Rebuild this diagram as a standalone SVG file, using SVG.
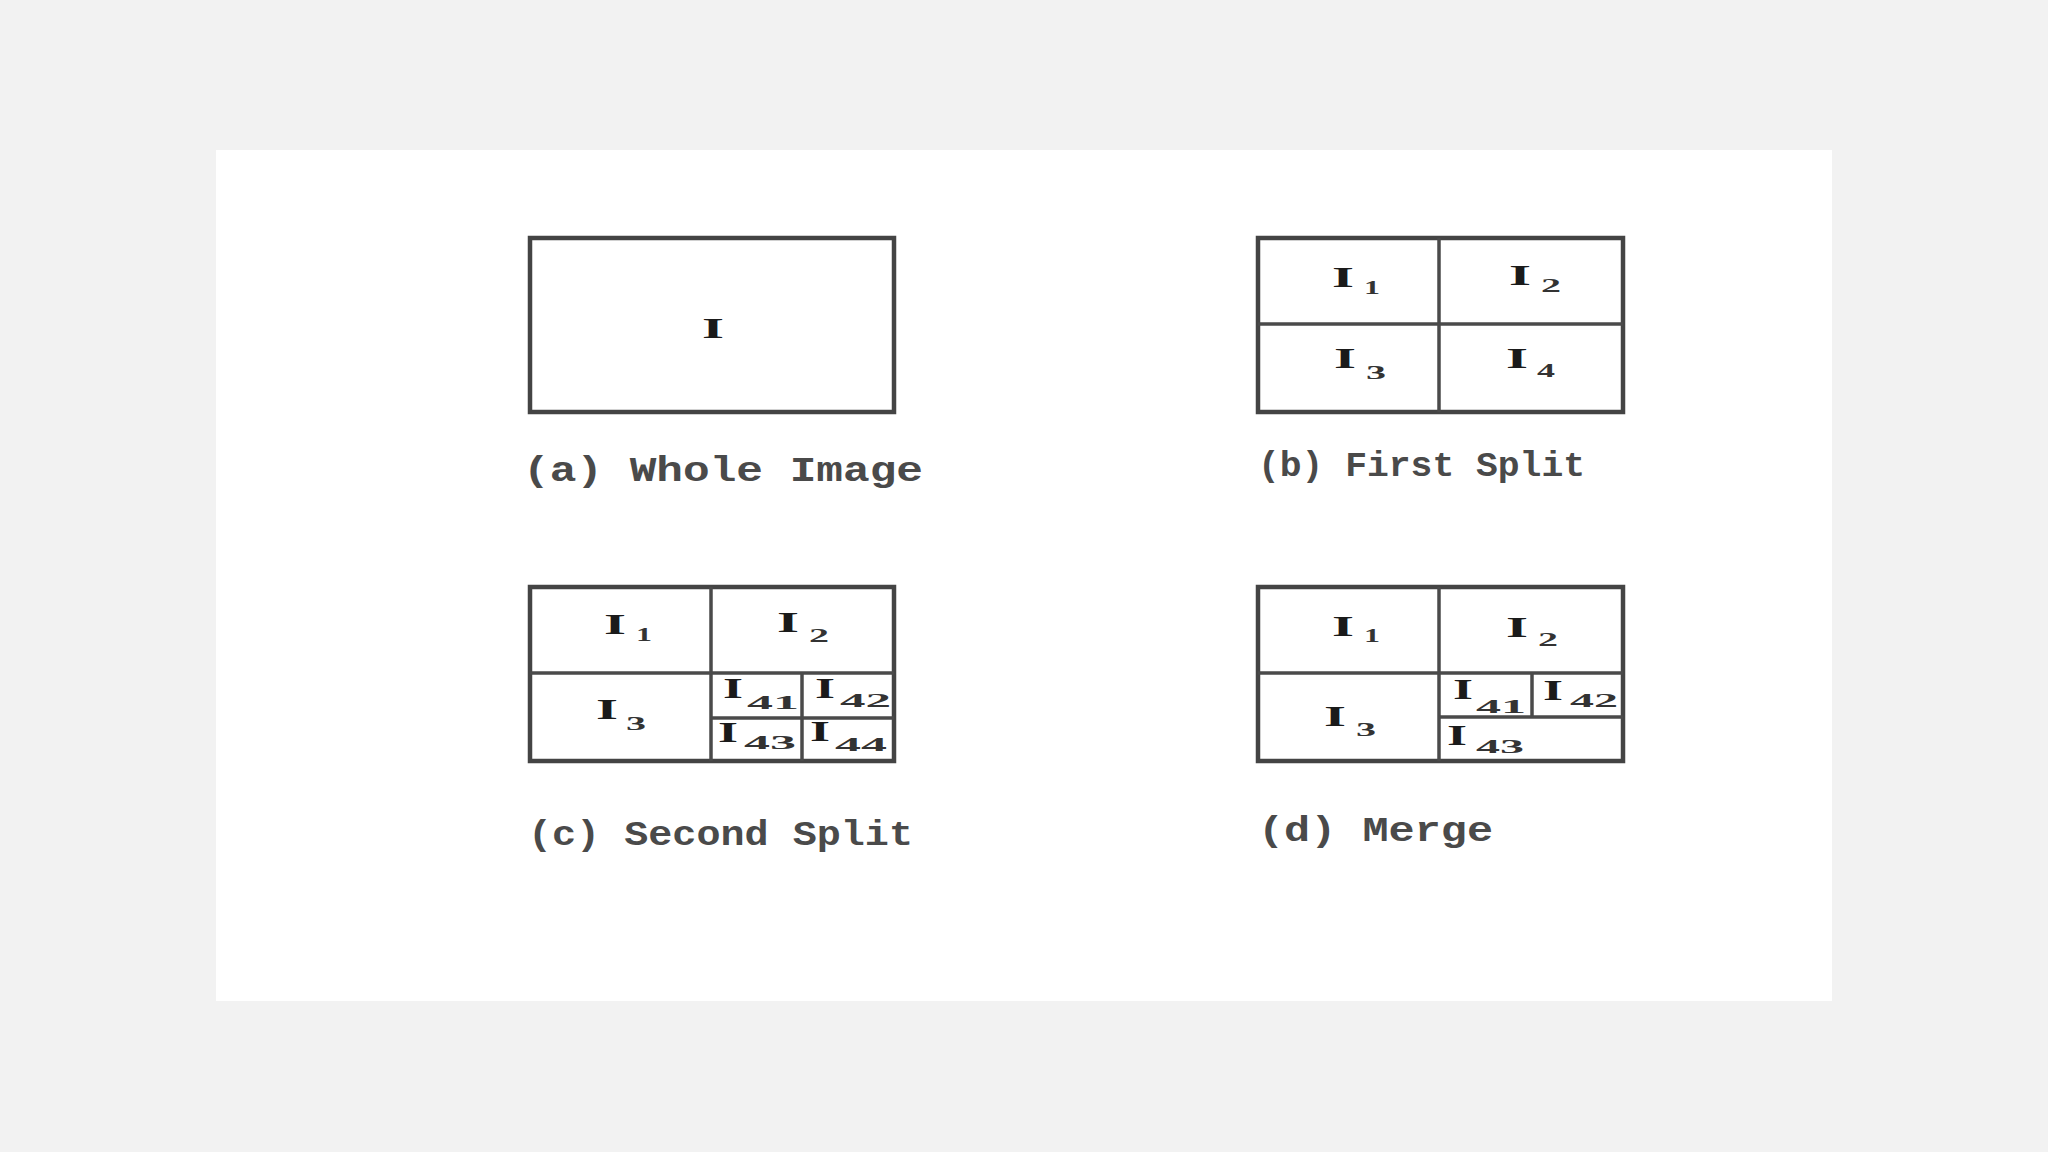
<svg xmlns="http://www.w3.org/2000/svg" width="2048" height="1152" viewBox="0 0 2048 1152">
<style>
.bg{fill:#f2f2f2}
.panel{fill:#ffffff}
.box{fill:#ffffff;stroke:#444;stroke-width:4.5}
.div{stroke:#4a4a4a;stroke-width:3.5;fill:none}
.I{font-family:"Liberation Serif",serif;font-weight:bold;font-size:30px;fill:#1a1a1a}
.sub{font-family:"Liberation Serif",serif;font-weight:bold;font-size:19px;fill:#333}
.cap{font-family:"Liberation Mono",monospace;font-weight:bold;font-size:35px;fill:#4a4a4a}
</style>
<rect class="bg" x="0" y="0" width="2048" height="1152"/>
<rect class="panel" x="216" y="150" width="1616" height="851"/>

<g id="panel-a">
  <rect class="box" x="530" y="238" width="364" height="174"/>
  <text class="I" x="713" y="338" text-anchor="middle" textLength="22" lengthAdjust="spacingAndGlyphs">I</text>
  <text class="cap" x="523" y="481" textLength="400" lengthAdjust="spacingAndGlyphs">(a) Whole Image</text>
</g>

<g id="panel-b">
  <rect class="box" x="1258" y="238" width="365" height="174"/>
  <line class="div" x1="1439" y1="238" x2="1439" y2="412"/>
  <line class="div" x1="1258" y1="324" x2="1623" y2="324"/>
  <text class="I" x="1343" y="287" text-anchor="middle" textLength="22" lengthAdjust="spacingAndGlyphs">I</text>
  <text class="sub" x="1372" y="294" text-anchor="middle" textLength="16" lengthAdjust="spacingAndGlyphs">1</text>
  <text class="I" x="1520" y="285" text-anchor="middle" textLength="22" lengthAdjust="spacingAndGlyphs">I</text>
  <text class="sub" x="1551" y="292" text-anchor="middle" textLength="20" lengthAdjust="spacingAndGlyphs">2</text>
  <text class="I" x="1345" y="368" text-anchor="middle" textLength="22" lengthAdjust="spacingAndGlyphs">I</text>
  <text class="sub" x="1376" y="379" text-anchor="middle" textLength="20" lengthAdjust="spacingAndGlyphs">3</text>
  <text class="I" x="1517" y="368" text-anchor="middle" textLength="22" lengthAdjust="spacingAndGlyphs">I</text>
  <text class="sub" x="1546" y="377" text-anchor="middle" textLength="18" lengthAdjust="spacingAndGlyphs">4</text>
  <text class="cap" x="1258" y="476" textLength="327" lengthAdjust="spacingAndGlyphs">(b) First Split</text>
</g>

<g id="panel-c">
  <rect class="box" x="530" y="587" width="364" height="174"/>
  <line class="div" x1="711" y1="587" x2="711" y2="761"/>
  <line class="div" x1="530" y1="673" x2="894" y2="673"/>
  <line class="div" x1="802" y1="673" x2="802" y2="761"/>
  <line class="div" x1="711" y1="718" x2="894" y2="718"/>
  <text class="I" x="615" y="634" text-anchor="middle" textLength="22" lengthAdjust="spacingAndGlyphs">I</text>
  <text class="sub" x="644" y="641" text-anchor="middle" textLength="16" lengthAdjust="spacingAndGlyphs">1</text>
  <text class="I" x="788" y="632" text-anchor="middle" textLength="22" lengthAdjust="spacingAndGlyphs">I</text>
  <text class="sub" x="819" y="642" text-anchor="middle" textLength="20" lengthAdjust="spacingAndGlyphs">2</text>
  <text class="I" x="607" y="719" text-anchor="middle" textLength="22" lengthAdjust="spacingAndGlyphs">I</text>
  <text class="sub" x="636" y="730" text-anchor="middle" textLength="20" lengthAdjust="spacingAndGlyphs">3</text>
  <text class="I" x="733" y="698" text-anchor="middle" textLength="20" lengthAdjust="spacingAndGlyphs">I</text>
  <text class="sub" x="747" y="709" textLength="52" lengthAdjust="spacingAndGlyphs">41</text>
  <text class="I" x="825" y="698" text-anchor="middle" textLength="20" lengthAdjust="spacingAndGlyphs">I</text>
  <text class="sub" x="840" y="707" textLength="51" lengthAdjust="spacingAndGlyphs">42</text>
  <text class="I" x="728" y="742" text-anchor="middle" textLength="20" lengthAdjust="spacingAndGlyphs">I</text>
  <text class="sub" x="744" y="749" textLength="52" lengthAdjust="spacingAndGlyphs">43</text>
  <text class="I" x="820" y="741" text-anchor="middle" textLength="20" lengthAdjust="spacingAndGlyphs">I</text>
  <text class="sub" x="835" y="751" textLength="52" lengthAdjust="spacingAndGlyphs">44</text>
  <text class="cap" x="528" y="845" textLength="385" lengthAdjust="spacingAndGlyphs">(c) Second Split</text>
</g>

<g id="panel-d">
  <rect class="box" x="1258" y="587" width="365" height="174"/>
  <line class="div" x1="1439" y1="587" x2="1439" y2="761"/>
  <line class="div" x1="1258" y1="673" x2="1623" y2="673"/>
  <line class="div" x1="1532" y1="673" x2="1532" y2="717"/>
  <line class="div" x1="1439" y1="717" x2="1623" y2="717"/>
  <text class="I" x="1343" y="636" text-anchor="middle" textLength="22" lengthAdjust="spacingAndGlyphs">I</text>
  <text class="sub" x="1372" y="642" text-anchor="middle" textLength="16" lengthAdjust="spacingAndGlyphs">1</text>
  <text class="I" x="1517" y="637" text-anchor="middle" textLength="22" lengthAdjust="spacingAndGlyphs">I</text>
  <text class="sub" x="1548" y="646" text-anchor="middle" textLength="20" lengthAdjust="spacingAndGlyphs">2</text>
  <text class="I" x="1335" y="726" text-anchor="middle" textLength="22" lengthAdjust="spacingAndGlyphs">I</text>
  <text class="sub" x="1366" y="736" text-anchor="middle" textLength="20" lengthAdjust="spacingAndGlyphs">3</text>
  <text class="I" x="1463" y="699" text-anchor="middle" textLength="20" lengthAdjust="spacingAndGlyphs">I</text>
  <text class="sub" x="1476" y="713" textLength="50" lengthAdjust="spacingAndGlyphs">41</text>
  <text class="I" x="1553" y="700" text-anchor="middle" textLength="20" lengthAdjust="spacingAndGlyphs">I</text>
  <text class="sub" x="1570" y="707" textLength="48" lengthAdjust="spacingAndGlyphs">42</text>
  <text class="I" x="1457" y="745" text-anchor="middle" textLength="20" lengthAdjust="spacingAndGlyphs">I</text>
  <text class="sub" x="1476" y="753" textLength="48" lengthAdjust="spacingAndGlyphs">43</text>
  <text class="cap" x="1258" y="841" textLength="235" lengthAdjust="spacingAndGlyphs">(d) Merge</text>
</g>

<g id="connectors"></g>
</svg>
